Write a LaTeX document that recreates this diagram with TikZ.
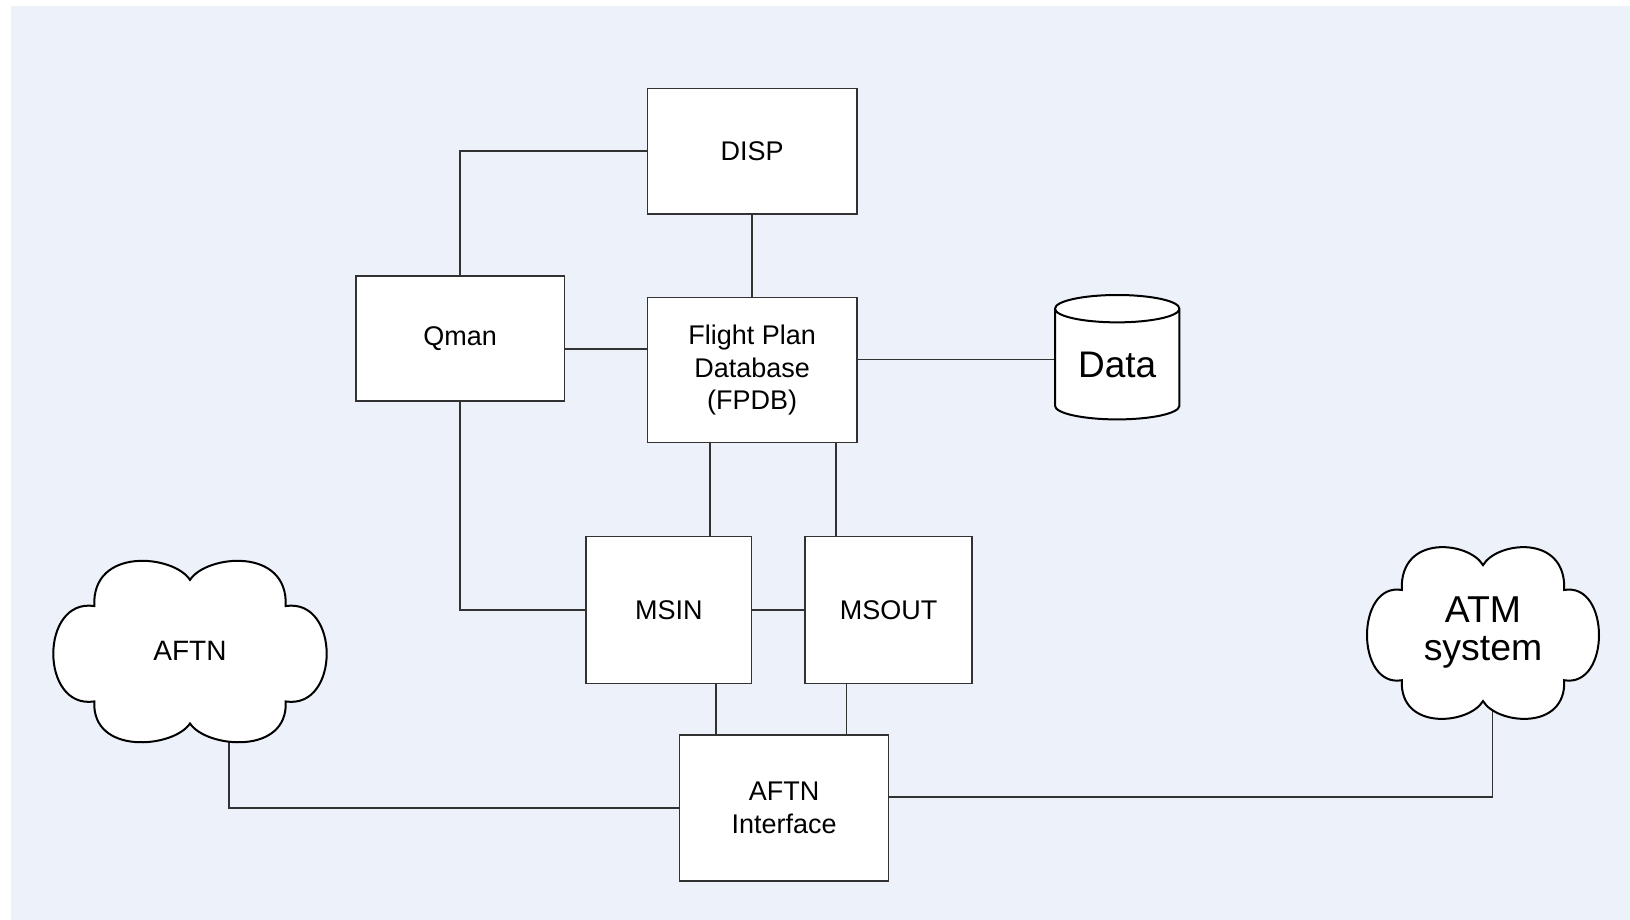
\documentclass[tikz,border=0pt]{standalone}
\usepackage{fontspec}
\setmainfont{Liberation Sans}
\usetikzlibrary{shapes.geometric}
\usetikzlibrary{backgrounds}
\definecolor{panelblue}{RGB}{236,241,250}
\definecolor{linegray}{RGB}{50,50,50}
\tikzset{
  myline/.style={
    draw=linegray,
    line width=0.75pt,
  },
  myrectangle/.style={
    draw=linegray,
    fill=white,
    shape=rectangle,
    line width=0.75pt,
    align=center,
    inner sep=0pt,
    font=\fontsize{13.5}{16.2}\selectfont
  },
  mycloudtext/.style={
    shape=rectangle,
    align=center,
    inner sep=0pt,
  },
  mycylinder/.style={
    draw=black,
    fill=white,
    shape=cylinder,
    shape border rotate=90,
    aspect=0.35,
    line width=1pt,
    align=center,
    inner sep=0pt,
    anchor=shape center,
    font=\fontsize{18.5}{22}\selectfont
  },
  % six puffs on a unit box, scaled where it is used
  mycloud/.pic={
    \draw[draw=black, fill=white, line width=1pt]
      (0,0.776) .. controls (-0.12,1.05) and (-0.72,1.14) .. (-0.70,0.49)
                .. controls (-1.10,0.58) and (-1.10,-0.64) .. (-0.70,-0.55)
                .. controls (-0.72,-1.14) and (-0.12,-1.06) .. (0,-0.79)
                .. controls (0.12,-1.06) and (0.72,-1.14) .. (0.70,-0.55)
                .. controls (1.10,-0.64) and (1.10,0.58) .. (0.70,0.49)
                .. controls (0.72,1.14) and (0.12,1.05) .. (0,0.776) -- cycle;
  }
}
\begin{document}
\begin{tikzpicture}[x=0.5pt, y=-0.5pt]
    \useasboundingbox (0,0) rectangle (1630,920);

    \node[myrectangle, minimum width=104.7pt, minimum height=62.9pt]  (disp)   at (752.2,151.2) {DISP};
    \node[myrectangle, minimum width=104.4pt, minimum height=62.5pt]  (qman)   at (460.2,338.5) {Qman};
    \node[myrectangle, minimum width=104.7pt, minimum height=72.5pt]  (fpdb)   at (752.2,370.2) {Flight Plan\\Database\\(FPDB)};
    \node[myrectangle, minimum width=82.9pt, minimum height=73.7pt]   (msin)   at (668.8,610.0) {MSIN};
    \node[myrectangle, minimum width=83.5pt, minimum height=73.7pt]   (msout)  at (888.5,610.0) {MSOUT};
    \node[myrectangle, minimum width=104.5pt, minimum height=73.0pt]  (aftnif) at (784.2,808.0) {AFTN\\Interface};
    \node[mycylinder, minimum width=62.2pt, minimum height=62.2pt]    (data)   at (1117.2,357.2) {Data};
    \node[mycloudtext, font=\fontsize{14}{17}\selectfont]     (aftn) at (190,651)    {AFTN};
    \node[mycloudtext, font=\fontsize{18.7}{18.7}\selectfont] (atm)  at (1483,632.5) {ATM\\system};

    % links run behind the boxes, clouds cover their ends
    \begin{scope}[on background layer]
      \fill[panelblue] (11,6) rectangle (1630,920);
      \draw[myline] (qman) |- (disp);
      \draw[myline] (disp) -- (fpdb);
      \draw[myline] ([yshift=-5.25pt]qman.center) -- ([yshift=-5.25pt]qman.center -| fpdb.center);
      \draw[myline] ([yshift=5.45pt]fpdb.center) -- ([yshift=5.45pt]fpdb.center -| data.center);
      \draw[myline] ([xshift=-21pt]fpdb.center) -- ([xshift=-21pt]fpdb.center |- msin.center);
      \draw[myline] ([xshift=42pt]fpdb.center) -- ([xshift=42pt]fpdb.center |- msout.center);
      \draw[myline] (qman) |- (msin);
      \draw[myline] (msin) -- (msout);
      \draw[myline] ([xshift=23.6pt]msin.center) -- ([xshift=23.6pt]msin.center |- aftnif.center);
      \draw[myline] ([xshift=-20.9pt]msout.center) -- ([xshift=-20.9pt]msout.center |- aftnif.center);
      \draw[myline] (aftnif) -| ([xshift=19.5pt]aftn.center);
      \draw[myline] ([yshift=5.5pt]aftnif.center) -| ([xshift=4.65pt]atm.center);
      \pic[xscale=136.7, yscale=-91.7] at (aftn.center) {mycloud};
      \pic[xscale=116, yscale=-86.8] at (atm.center) {mycloud};
    \end{scope}
\end{tikzpicture}
\end{document}
